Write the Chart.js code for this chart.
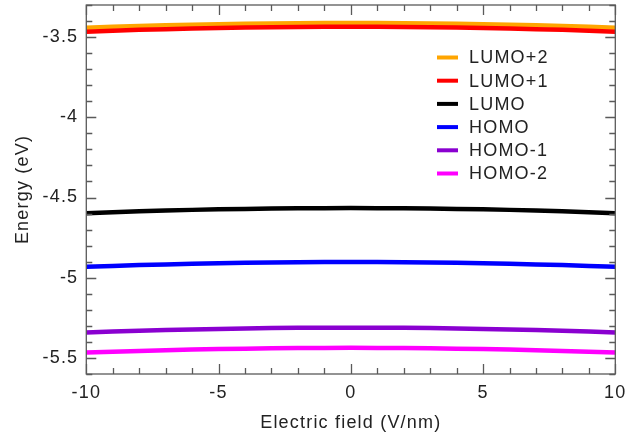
<!DOCTYPE html>
<html>
<head>
<meta charset="utf-8">
<script src="https://cdn.jsdelivr.net/npm/chart.js@4"></script>
<style>
    html, body { margin:0; padding:0; background:#fff; }
    #wrap { width:629px; height:433px; }
</style>
</head>
<body>
<div id="wrap"><canvas id="grafico" width="629" height="433"></canvas></div>
<script>

// ================================
// DATOS
// ================================

const campo = [-10,-8,-6,-4,-2,0,2,4,6,8,10];

const lumo2 = [-3.442,-3.431,-3.423,-3.417,-3.413,-3.412,-3.413,-3.417,-3.423,-3.431,-3.442];
const lumo1 = [-3.466,-3.455,-3.447,-3.441,-3.437,-3.436,-3.437,-3.441,-3.447,-3.455,-3.466];
const lumo  = [-4.598,-4.586,-4.577,-4.571,-4.567,-4.566,-4.567,-4.571,-4.577,-4.586,-4.598];
const homo  = [-4.932,-4.921,-4.913,-4.907,-4.903,-4.902,-4.903,-4.907,-4.913,-4.921,-4.932];
const homo1 = [-5.342,-5.330,-5.322,-5.316,-5.312,-5.311,-5.312,-5.316,-5.322,-5.330,-5.342];
const homo2 = [-5.466,-5.456,-5.448,-5.442,-5.438,-5.437,-5.438,-5.442,-5.448,-5.456,-5.466];

const nombres = ["LUMO+2","LUMO+1","LUMO","HOMO","HOMO-1","HOMO-2"];
const colores = ["#FFA500","#FF0000","#000000","#0000FF","#8A00D0","#FF00FF"];

const xTicks = [-10,-5,0,5,10];
const yTicks = [-5.5,-5,-4.5,-4,-3.5];

const FUENTE = "'Liberation Sans', Arial, sans-serif";
const TEXTO = "#222";
const EJE = "#5a5a5a";

function serie(valores){
    return campo.map((x,i)=>({x:x, y:valores[i]}));
}

const series = [lumo2,lumo1,lumo,homo,homo1,homo2];

// ================================
// PLUGINS
// ================================

// marcas de los ejes hacia dentro, en los cuatro lados
const marcas = {
    id:"marcas",
    afterDraw(chart){
        const c = chart.ctx;
        const a = chart.chartArea;
        const sx = chart.scales.x;
        const sy = chart.scales.y;
        c.save();
        c.strokeStyle = EJE;
        c.lineWidth = 1.3;
        c.strokeRect(a.left, a.top, a.right-a.left, a.bottom-a.top);
        c.beginPath();
        for(let v=-10; v<=10; v++){
            const px = Math.round(sx.getPixelForValue(v))+0.5;
            const L = (v%5===0) ? 10 : 6;
            c.moveTo(px,a.bottom); c.lineTo(px,a.bottom-L);
            c.moveTo(px,a.top); c.lineTo(px,a.top+L);
        }
        for(let k=-56; k<=-33; k++){
            const v = k/10;
            const py = Math.round(sy.getPixelForValue(v))+0.5;
            const L = (k%5===0) ? 10 : 6;
            c.moveTo(a.left,py); c.lineTo(a.left+L,py);
            c.moveTo(a.right,py); c.lineTo(a.right-L,py);
        }
        c.stroke();
        c.restore();
    }
};

// leyenda dentro del área
const leyenda = {
    id:"leyenda",
    afterDraw(chart){
        const c = chart.ctx;
        c.save();
        c.font = "18px " + FUENTE;
        c.letterSpacing = "1.2px";
        c.textBaseline = "middle";
        c.textAlign = "left";
        nombres.forEach((n,i)=>{
            const y = 57.5 + i*23.2;
            c.strokeStyle = colores[i];
            c.lineWidth = 4;
            c.beginPath();
            c.moveTo(437,y); c.lineTo(458,y);
            c.stroke();
            c.fillStyle = TEXTO;
            c.fillText(n, 469, y+1);
        });
        c.restore();
    }
};

// títulos de los ejes
const titulos = {
    id:"titulos",
    afterDraw(chart){
        const c = chart.ctx;
        const a = chart.chartArea;
        c.save();
        c.font = "18px " + FUENTE;
        c.letterSpacing = "1.2px";
        c.fillStyle = TEXTO;
        c.textAlign = "center";
        c.textBaseline = "alphabetic";
        c.fillText("Electric field (V/nm)", (a.left+a.right)/2, 428);
        c.translate(28, (a.top+a.bottom)/2);
        c.rotate(-Math.PI/2);
        c.fillText("Energy (eV)", 0, 0);
        c.restore();
    }
};

const espaciado = {
    id:"espaciado",
    beforeUpdate(chart){ chart.ctx.letterSpacing = "1.2px"; },
    beforeDraw(chart){ chart.ctx.letterSpacing = "1.2px"; }
};

// ================================
// GRAFICO
// ================================

const ctx = document.getElementById("grafico");

const grafico = new Chart(ctx, {

    type:"line",

    data:{
        datasets: nombres.map((n,i)=>({
            label:n,
            data:serie(series[i]),
            borderColor:colores[i],
            backgroundColor:colores[i],
            borderWidth:4.5,
            pointRadius:0,
            tension:0.3,
            order: i===0 ? 1 : (i===1 ? 0 : i)
        }))
    },

    options:{
        responsive:false,
        animation:false,
        layout:{ padding:{ left:0, right:13.7, top:5, bottom:0 } },
        plugins:{
            legend:{ display:false },
            tooltip:{ enabled:false }
        },
        scales:{
            x:{
                type:"linear",
                min:-10,
                max:10,
                afterBuildTicks(s){ s.ticks = xTicks.map(v=>({value:v})); },
                afterFit(s){ s.height = 59; s.paddingLeft = 0; s.paddingRight = 0; },
                grid:{ display:false, drawTicks:false },
                border:{ display:false },
                ticks:{
                    color:TEXTO,
                    padding:8,
                    maxRotation:0,
                    font:{ family:FUENTE, size:18 }
                }
            },
            y:{
                min:-5.6,
                max:-3.3,
                afterBuildTicks(s){ s.ticks = yTicks.map(v=>({value:v})); },
                afterFit(s){ s.width = 86.3; s.paddingTop = 0; s.paddingBottom = 0; },
                grid:{ display:false, drawTicks:false },
                border:{ display:false },
                ticks:{
                    color:TEXTO,
                    padding:8,
                    font:{ family:FUENTE, size:18 },
                    callback:(v)=>String(v)
                }
            }
        }
    },

    plugins:[espaciado, marcas, leyenda, titulos]
});

</script>
</body>
</html>
